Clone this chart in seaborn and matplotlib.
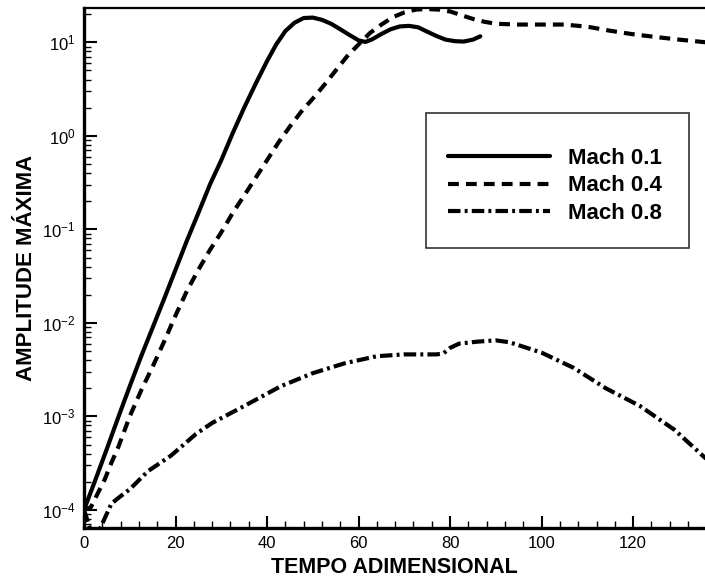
import matplotlib
matplotlib.use("Agg")
import matplotlib.pyplot as plt
from matplotlib.ticker import MultipleLocator, LogLocator, NullFormatter
from matplotlib.patches import Rectangle
import numpy as np
import pandas as pd
import seaborn as sns

# Maximum amplitude vs. non-dimensional time for three Mach numbers
t_mach01 = [0, 2.5, 5, 7.5, 10, 12.5, 15, 17.5, 20, 22.5, 25, 27.5, 30, 32.5, 35,
            37.5, 40, 42, 44, 46, 48, 50, 52, 54, 56, 58, 60, 61.5, 63, 65, 67,
            69, 71, 73, 75, 77, 79, 81, 83, 85, 86.6]
amp_mach01 = [1.0e-4, 2.1e-4, 4.5e-4, 9.8e-4, 2.1e-3, 4.4e-3, 8.9e-3, 1.8e-2,
              3.7e-2, 7.6e-2, 0.15, 0.30, 0.55, 1.07, 2.0, 3.6, 6.3, 9.5, 13.2,
              16.2, 18.2, 18.4, 17.4, 15.8, 13.8, 12.0, 10.5, 10.1, 10.8, 12.3,
              13.8, 14.8, 15.0, 14.5, 13.0, 11.7, 10.7, 10.3, 10.2, 10.7, 11.6]

t_mach04 = [0, 1.5, 3, 4.5, 6, 7.5, 10, 12.5, 15, 17.5, 20, 22.5, 25, 27.5, 30,
            32.5, 35, 37.5, 40, 42.5, 45, 47.5, 50, 52.5, 55, 57.5, 60, 62.5,
            65, 67.5, 70, 72.5, 75, 77.5, 80, 82.5, 85, 87.5, 90, 95, 100, 105,
            110, 115, 120, 125, 130, 136]
amp_mach04 = [1.0e-4, 1.07e-4, 1.5e-4, 2.1e-4, 3.2e-4, 4.7e-4, 1.0e-3, 1.9e-3,
              3.4e-3, 6.3e-3, 1.2e-2, 2.2e-2, 3.7e-2, 6.0e-2, 9.3e-2, 0.15,
              0.23, 0.355, 0.55, 0.85, 1.26, 1.82, 2.5, 3.5, 5.0, 7.1, 9.5,
              12.6, 15.5, 18.6, 20.9, 22.4, 22.7, 22.4, 21.4, 19.5, 17.8, 16.6,
              15.8, 15.5, 15.5, 15.5, 14.7, 13.3, 12.2, 11.4, 10.7, 10.0]

t_mach08 = [0, 2, 3.5, 6, 8, 10, 14, 19, 24.5, 28, 35, 43, 50, 57, 64, 70, 77,
            78.5, 80, 82, 86, 90, 93, 100, 107, 114, 121.5, 129, 136]
amp_mach08 = [1.0e-4, 5.0e-5, 6.3e-5, 1.17e-4, 1.4e-4, 1.66e-4, 2.6e-4, 3.8e-4,
              6.5e-4, 8.5e-4, 1.29e-3, 2.1e-3, 2.9e-3, 3.7e-3, 4.4e-3, 4.6e-3,
              4.6e-3, 4.7e-3, 5.4e-3, 6.0e-3, 6.3e-3, 6.5e-3, 6.2e-3, 4.8e-3,
              3.3e-3, 2.0e-3, 1.29e-3, 7.2e-4, 3.5e-4]

series_labels = ["Mach 0.1", "Mach 0.4", "Mach 0.8"]

df = pd.concat([
    pd.DataFrame({"tempo": t_mach01, "amplitude": amp_mach01, "caso": series_labels[0]}),
    pd.DataFrame({"tempo": t_mach04, "amplitude": amp_mach04, "caso": series_labels[1]}),
    pd.DataFrame({"tempo": t_mach08, "amplitude": amp_mach08, "caso": series_labels[2]}),
], ignore_index=True)

sns.set_theme(style="ticks")
plt.rcParams["font.family"] = ["Liberation Sans", "DejaVu Sans"]
plt.rcParams["mathtext.fontset"] = "custom"
plt.rcParams["mathtext.rm"] = "Liberation Sans"
plt.rcParams["mathtext.it"] = "Liberation Sans:italic"
plt.rcParams["mathtext.bf"] = "Liberation Sans:bold"
plt.rcParams["mathtext.default"] = "regular"
plt.rcParams["text.color"] = "black"
plt.rcParams["axes.labelcolor"] = "black"
plt.rcParams["xtick.color"] = "black"
plt.rcParams["ytick.color"] = "black"

fig = plt.figure(figsize=(7.05, 5.79), dpi=100)
ax = fig.add_axes([84 / 705, 51 / 579, 621 / 705, 520 / 579])

line_dashes = {
    series_labels[0]: "",
    series_labels[1]: (2.6, 1.7),
    series_labels[2]: (3.0, 1.0, 0.7, 1.0),
}
sns.lineplot(data=df, x="tempo", y="amplitude", style="caso",
             dashes=line_dashes, color="black", linewidth=3,
             estimator=None, sort=False, legend=False, ax=ax)

ax.set_yscale("log")
ax.set_xlim(0, 135.7)
ax.set_ylim(6.4e-5, 23.3)

ax.xaxis.set_major_locator(MultipleLocator(20))
ax.xaxis.set_minor_locator(MultipleLocator(4))
ax.yaxis.set_major_locator(LogLocator(base=10))
ax.yaxis.set_minor_locator(LogLocator(base=10, subs=np.arange(2, 10)))
ax.yaxis.set_minor_formatter(NullFormatter())

ax.tick_params(which="major", direction="in", length=9, width=1.5,
               labelsize=12, pad=6, top=False, right=False,
               colors="black", labelcolor="black")
ax.tick_params(which="minor", direction="in", length=5, width=1.0,
               top=False, right=False, colors="black")

for side in ("left", "bottom"):
    ax.spines[side].set_linewidth(2.4)
    ax.spines[side].set_color("black")
ax.spines["top"].set_linewidth(1.6)
ax.spines["top"].set_color("black")
ax.spines["right"].set_visible(False)

ax.set_xlabel("TEMPO ADIMENSIONAL", fontsize=15.5, fontweight="bold",
              color="black", labelpad=4)
ax.set_ylabel("AMPLITUDE MÁXIMA", fontsize=16, fontweight="bold", color="black")
ax.yaxis.set_label_coords(-0.076, 0.5)

handles = ax.get_lines()[:3]
leg = ax.legend(handles, series_labels, loc="center left",
                bbox_to_anchor=(0.586, 0.658), frameon=False,
                prop={"size": 16, "weight": "bold"}, handlelength=4.6,
                handletextpad=0.8, labelspacing=0.3, borderpad=0, borderaxespad=0)
for txt in leg.get_texts():
    txt.set_color("black")
ax.add_patch(Rectangle((0.550, 0.538), 0.424, 0.261, transform=ax.transAxes,
                       fill=False, edgecolor="#333333", linewidth=1.2, zorder=5))

fig.savefig("out.png", dpi=100, facecolor="white")
